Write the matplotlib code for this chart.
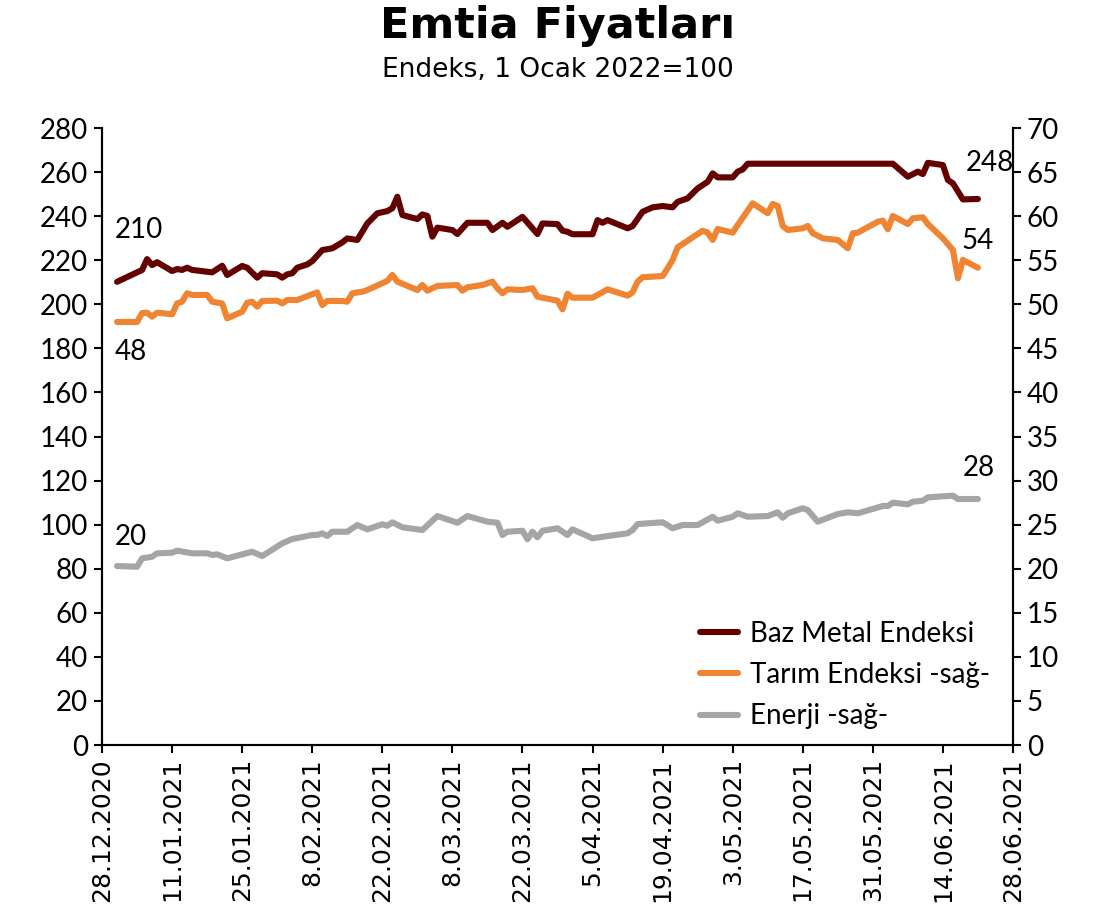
import numpy as np
import pandas as pd
import matplotlib
matplotlib.use("Agg")
import matplotlib.pyplot as plt
import matplotlib.dates as mdates

# days since 28.12.2020 and index values
metal_days = [3, 8, 9, 10, 11, 14, 15, 16, 17, 18, 22, 24, 25, 28, 29, 31, 32, 35, 36, 37,
              38, 39, 41, 42, 44, 46, 48, 49, 51, 53, 55, 57, 58, 59, 60, 63, 64, 65, 66, 67,
              70, 71, 73, 77, 78, 80, 81, 84, 87, 88, 91, 92, 93, 94, 98, 99, 100, 101, 105, 106,
              108, 110, 112, 114, 115, 117, 119, 120, 121, 122, 123, 126, 127, 128, 129, 158, 161, 163, 164, 165,
              168, 169, 170, 172, 175]
metal_vals = [210.2, 215.6, 220.5, 217.8, 219.1, 215.1, 216.0, 215.6, 216.6, 215.6, 214.5, 217.5, 213.3, 217.4, 216.6, 212.1, 214.1, 213.6, 212.1, 213.6,
              214.1, 216.6, 218.1, 219.6, 224.6, 225.4, 228.1, 229.9, 229.2, 236.7, 241.3, 242.3, 243.6, 248.8, 240.5, 238.7, 240.8, 240.1, 230.7, 234.8,
              233.7, 231.9, 237.0, 237.0, 233.7, 237.0, 235.2, 239.7, 231.9, 236.7, 236.4, 233.4, 232.9, 231.8, 231.8, 238.2, 237.0, 238.2, 234.5, 235.5,
              242.0, 244.0, 244.6, 244.0, 246.5, 248.1, 252.6, 254.1, 255.6, 259.4, 257.6, 257.6, 260.2, 261.2, 263.8, 263.8, 257.9, 260.2, 259.1, 264.2,
              263.2, 256.4, 254.9, 247.6, 247.8]

agri_days = [3, 7, 8, 9, 10, 11, 14, 15, 16, 17, 18, 21, 22, 24, 25, 28, 29, 30, 31, 32,
             35, 36, 37, 39, 43, 44, 45, 48, 49, 50, 52, 53, 57, 58, 59, 63, 64, 65, 67, 71,
             72, 73, 76, 78, 79, 80, 81, 84, 86, 87, 91, 92, 93, 94, 98, 99, 101, 105, 106, 107,
             108, 112, 113, 114, 115, 116, 120, 121, 122, 123, 126, 127, 130, 133, 134, 135, 136, 137, 140, 141,
             142, 144, 147, 149, 150, 151, 155, 156, 157, 158, 161, 162, 164, 165, 168, 170, 171, 172, 175]
agri_vals = [48.0, 48.0, 49.0, 49.05, 48.6, 49.05, 48.87, 50.1, 50.3, 51.25, 51.06, 51.06, 50.3, 50.1, 48.41, 49.16, 50.18, 50.3, 49.73, 50.38,
             50.41, 50.1, 50.49, 50.49, 51.36, 49.92, 50.38, 50.38, 50.3, 51.25, 51.43, 51.62, 52.65, 53.33, 52.57, 51.62, 52.19, 51.55, 52.08, 52.19,
             51.55, 51.93, 52.19, 52.57, 51.82, 51.25, 51.7, 51.62, 51.82, 50.86, 50.41, 49.43, 51.2, 50.75, 50.75, 51.06, 51.7, 50.98, 51.36, 52.57,
             53.07, 53.21, 54.09, 55.03, 56.47, 56.84, 58.35, 58.13, 57.3, 58.54, 58.13, 59.0, 61.46, 60.33, 61.38, 61.15, 58.89, 58.43, 58.62, 58.89,
             58.06, 57.49, 57.3, 56.36, 58.06, 58.13, 59.37, 59.49, 58.51, 60.02, 59.11, 59.76, 59.87, 59.11, 57.49, 56.16, 52.95, 55.03, 54.15]

energy_days = [3, 7, 8, 10, 11, 14, 15, 18, 21, 22, 23, 25, 30, 32, 36, 38, 42, 43, 44, 45,
               46, 49, 51, 53, 56, 57, 58, 60, 64, 67, 71, 73, 77, 79, 80, 81, 84, 85, 86, 87,
               88, 91, 93, 94, 98, 101, 105, 106, 107, 112, 114, 116, 119, 122, 123, 126, 127, 129, 133, 135,
               136, 137, 140, 141, 143, 147, 149, 151, 156, 157, 158, 161, 162, 164, 165, 170, 171, 175]
energy_vals = [20.31, 20.23, 21.18, 21.36, 21.75, 21.82, 22.05, 21.75, 21.75, 21.56, 21.64, 21.18, 21.93, 21.44, 22.88, 23.37, 23.83, 23.83, 24.02, 23.71,
               24.2, 24.2, 24.96, 24.47, 25.04, 24.88, 25.27, 24.7, 24.39, 25.98, 25.22, 25.98, 25.34, 25.22, 23.83, 24.2, 24.31, 23.34, 24.2, 23.57,
               24.31, 24.59, 23.83, 24.47, 23.45, 23.71, 24.02, 24.39, 25.07, 25.27, 24.59, 24.96, 24.96, 25.9, 25.45, 25.9, 26.29, 25.9, 25.98, 26.4,
               25.79, 26.29, 26.86, 26.66, 25.34, 26.21, 26.4, 26.29, 27.12, 27.12, 27.49, 27.31, 27.6, 27.72, 28.1, 28.29, 27.91, 27.91]

series_names = ["Baz Metal Endeksi", "Tarım Endeksi -sağ-", "Enerji -sağ-"]
start = pd.Timestamp("2020-12-28")
end = pd.Timestamp("2021-06-28")


def to_dates(days):
    return start + pd.to_timedelta(days, unit="D")


brown = "#650000"
orange = "#EF8433"
grey = "#A5A5A5"
tick_font = "Lato"

fig = plt.figure(figsize=(11.02, 9.19), dpi=100)
ax = fig.add_axes([0.0926, 0.1893, 0.8266, 0.6714])
ax2 = ax.twinx()

l1, = ax.plot(to_dates(metal_days), metal_vals, color=brown, lw=4.4, solid_joinstyle="round",
              solid_capstyle="round", label=series_names[0])
l2, = ax2.plot(to_dates(agri_days), agri_vals, color=orange, lw=4.4, solid_joinstyle="round",
               solid_capstyle="round", label=series_names[1])
l3, = ax2.plot(to_dates(energy_days), energy_vals, color=grey, lw=4.4, solid_joinstyle="round",
               solid_capstyle="round", label=series_names[2])

ax.set_ylim(0, 280)
ax.set_yticks(np.arange(0, 281, 20))
ax2.set_ylim(0, 70)
ax2.set_yticks(np.arange(0, 71, 5))
ax.set_xlim(start, end)
ax.set_xticks(pd.date_range(start, end, freq="14D"))
ax.set_xticklabels([f"{d.day}.{d.month:02d}.{d.year}" for d in pd.date_range(start, end, freq="14D")],
                   rotation=90, fontsize=18, family="DejaVu Sans")

for a in (ax, ax2):
    a.spines["top"].set_visible(False)
    for s in a.spines.values():
        s.set_linewidth(1.5)
    a.tick_params(width=1.5, length=6, direction="out")
for lab in ax.get_yticklabels() + ax2.get_yticklabels():
    lab.set_fontsize(20)
    lab.set_family(tick_font)
ax.tick_params(axis="y", pad=4)
ax2.tick_params(axis="y", pad=4)

# value labels at start and end of each line
lab_kw = dict(textcoords="offset points", ha="left", va="center", fontsize=20, family=tick_font)
ax.annotate("210", (to_dates([metal_days[0]])[0], metal_vals[0]), xytext=(-2, 37), **lab_kw)
ax2.annotate("48", (to_dates([agri_days[0]])[0], agri_vals[0]), xytext=(-2, -22), **lab_kw)
ax2.annotate("20", (to_dates([energy_days[0]])[0], energy_vals[0]), xytext=(-2, 21), **lab_kw)
ax.annotate("248", (to_dates([metal_days[-1]])[0], metal_vals[-1]), xytext=(-9, 26), **lab_kw)
ax2.annotate("54", (to_dates([agri_days[-1]])[0], agri_vals[-1]), xytext=(-11.5, 19.5), **lab_kw)
ax2.annotate("28", (to_dates([energy_days[-1]])[0], energy_vals[-1]), xytext=(-11, 22), **lab_kw)

fig.legend(handles=[l1, l2, l3], loc="center left", bbox_to_anchor=(700 / 1102, 1 - 675 / 919),
           frameon=False, prop={"family": tick_font, "size": 20}, handlelength=1.37,
           handletextpad=0.43, labelspacing=0.55, borderpad=0, borderaxespad=0)

fig.text(0.506, 0.972, "Emtia Fiyatları", ha="center", va="center", fontsize=31,
         fontweight="bold", family="DejaVu Sans")
fig.text(0.506, 0.924, "Endeks, 1 Ocak 2022=100", ha="center", va="center", fontsize=19,
         family="DejaVu Sans")

fig.savefig("out.png", dpi=100)
